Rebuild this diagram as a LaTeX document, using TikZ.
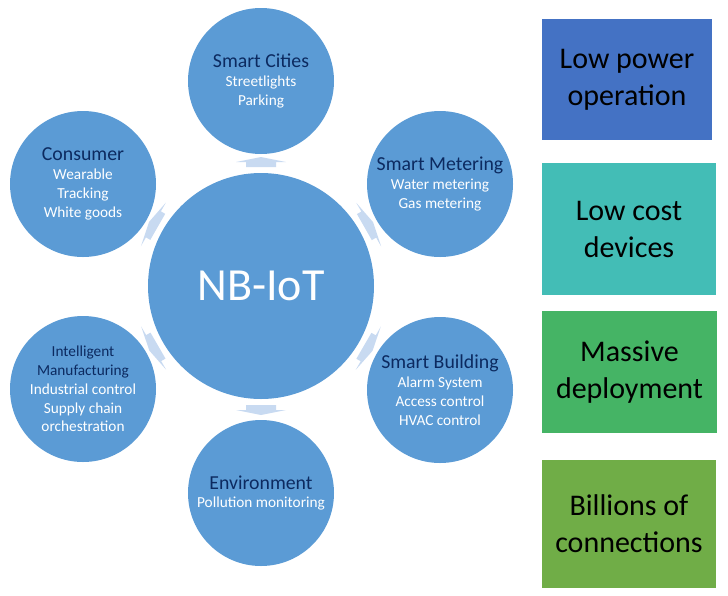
\documentclass[tikz,border=0pt]{standalone}
\usepackage{fontspec}
\setmainfont{Carlito}
\usetikzlibrary{calc,backgrounds}
\definecolor{circblue}{HTML}{5B9BD5}
\definecolor{arrowblue}{HTML}{C8DAF1}
\definecolor{navy}{HTML}{0C2A60}
\definecolor{boxA}{HTML}{4472C4}
\definecolor{boxB}{HTML}{43BDB6}
\definecolor{boxC}{HTML}{45B465}
\definecolor{boxD}{HTML}{70AD47}
\tikzset{
  hub/.style={circle, fill=circblue, minimum size=226pt, inner sep=0pt, text=white, font=\fontsize{46}{50}\selectfont},
  leaf/.style={circle, fill=circblue, minimum size=146pt, inner sep=0pt, align=center, text=white, font=\fontsize{15.3}{18.8}\selectfont},
  feature/.style={rectangle, inner sep=0pt, align=center, text=black, font=\fontsize{30}{37}\selectfont},
  arrowfill/.style={fill=arrowblue}
}
\newcommand\ttl[1]{{\fontsize{19.8}{21}\selectfont\color{navy}#1}}
\newcommand\blockarrow[1]{%
  \fill[arrowfill] ($(c)!119pt!(#1)!15pt!90:(#1)$) -- ($(c)!124pt!(#1)!15pt!90:(#1)$)
    -- ($(c)!124pt!(#1)!25pt!90:(#1)$) -- ($(c)!129pt!(#1)$)
    -- ($(c)!124pt!(#1)!25pt!-90:(#1)$) -- ($(c)!124pt!(#1)!15pt!-90:(#1)$)
    -- ($(c)!119pt!(#1)!15pt!-90:(#1)$) -- cycle;}
\begin{document}
\begin{tikzpicture}[x=1pt,y=-1pt]
\useasboundingbox (0,0) rectangle (728,595);
% hub and leaves
\node[hub] (c) at (261,286) {NB-IoT};
\node[leaf] (sc) at (261,81) {\ttl{Smart Cities}\\Streetlights\\Parking};
\node[leaf] (sm) at (440,184) {\ttl{Smart Metering}\\Water metering\\Gas metering};
\node[leaf] (sb) at (440,390) {\ttl{Smart Building}\\Alarm System\\Access control\\HVAC control};
\node[leaf] (en) at (261,493) {\ttl{Environment}\\Pollution monitoring};
\node[leaf] (im) at (83,389) {{\color{navy}Intelligent}\\{\color{navy}Manufacturing}\\Industrial control\\Supply chain\\orchestration};
\node[leaf] (co) at (83,184) {\ttl{Consumer}\\Wearable\\Tracking\\White goods};
% block arrows behind circles
\begin{pgfonlayer}{background}
\blockarrow{sc}
\blockarrow{sm}
\blockarrow{sb}
\blockarrow{en}
\blockarrow{im}
\blockarrow{co}
\end{pgfonlayer}
% feature boxes
\node[feature, fill=boxA, minimum width=170pt, minimum height=121pt] (f1) at (627,79.5) {Low power\\operation};
\node[feature, fill=boxB, minimum width=174pt, minimum height=132pt] (f2) at (629,229) {Low cost\\devices};
\node[feature, fill=boxC, minimum width=175pt, minimum height=122pt] (f3) at (629.5,372) {Massive\\deployment};
\node[feature, fill=boxD, minimum width=174pt, minimum height=128pt] (f4) at (629,524) {Billions of\\connections};
\end{tikzpicture}
\end{document}
